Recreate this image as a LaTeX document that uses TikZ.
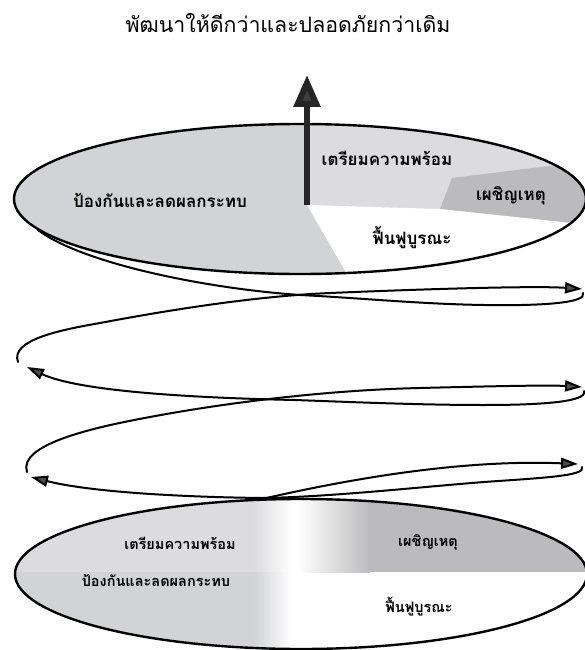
\documentclass[tikz,border=0pt]{standalone}
\usepackage{fontspec}
\newfontfamily\thaifont[Script=Thai]{Loma}
\usetikzlibrary{arrows.meta, shapes.geometric}
\definecolor{preventgrey}{HTML}{D2D3D6}
\definecolor{prepgrey}{HTML}{DCDCDE}
\definecolor{respgrey}{HTML}{BBBBBD}

\begin{document}
\begin{tikzpicture}[
    x=1pt, y=-1pt,
    disk/.style={ellipse, draw=black, line width=2.4pt, minimum width=572pt, minimum height=150pt, inner sep=0pt},
    biglabel/.style={font=\thaifont\bfseries\fontsize{17}{20}\selectfont},
    smalllabel/.style={font=\thaifont\bfseries\fontsize{14.5}{17}\selectfont},
    heading/.style={font=\thaifont\fontsize{21.3}{25}\selectfont},
    spiral/.style={draw=black, line width=2pt, line cap=round},
    spiralarrow/.style={spiral, -{Triangle[length=17pt,width=11pt,fill=black!70]}},
    bigarrow/.style={draw=black!85, line width=6pt, -{Triangle[length=32pt,width=26pt,fill=black!75]}}
]
\useasboundingbox (0,0) rectangle (584,650);

% Titel
\node[heading] (title) at (288,23) {พัฒนาให้ดีกว่าและปลอดภัยกว่าเดิม};

% Scheibe oben
\begin{scope}
  \clip (300,199) ellipse [x radius=286, y radius=75];
  \fill[preventgrey] (0,110) rectangle (600,290);
  \fill[prepgrey] (307,205) -- (307,100) -- (600,100) -- (600,230) -- cycle;
  \fill[respgrey] (452,178) -- (565,164) -- (600,150) -- (600,230) -- (440,209) -- cycle;
  \fill[white] (307,205) -- (440,209) -- (600,226) -- (600,300) -- (362,300) -- cycle;
\end{scope}
\node[disk] (topdisk) at (300,199) {};

% Scheibe unten
\begin{scope}
  \clip (301,574) ellipse [x radius=286, y radius=75];
  \fill[prepgrey] (0,480) rectangle (255,572);
  \fill[preventgrey] (0,572) rectangle (255,660);
  \shade[left color=prepgrey, right color=white] (254,480) rectangle (292,572);
  \shade[left color=preventgrey, right color=white] (254,572) rectangle (292,660);
  \shade[left color=white, right color=respgrey] (298,480) rectangle (370,572);
  \fill[respgrey] (369,480) rectangle (600,572);
\end{scope}
\node[disk] (botdisk) at (301,574) {};

% Beschriftung oben
\node[biglabel] (prevtop) at (160,200) {ป้องกันและลดผลกระทบ};
\node[biglabel] (preptop) at (387,158) {เตรียมความพร้อม};
\node[biglabel] (resptop) at (511,196) {เผชิญเหตุ};
\node[biglabel] (recotop) at (412,238) {ฟื้นฟูบูรณะ};

% Beschriftung unten
\node[smalllabel] (prepbot) at (180,543) {เตรียมความพร้อม};
\node[smalllabel] (respbot) at (428,542) {เผชิญเหตุ};
\node[smalllabel] (prevbot) at (156,580) {ป้องกันและลดผลกระทบ};
\node[smalllabel] (recobot) at (419,607) {ฟื้นฟูบูรณะ};

% Punkte der Spirale
\coordinate (c3) at (262,499);
\coordinate (a3) at (578,464);
\coordinate (r3) at (582,467);
\coordinate (a2l) at (31,477);
\coordinate (l2) at (27,472);
\coordinate (a2r) at (582,387);
\coordinate (r2) at (584,391);
\coordinate (a1l) at (27,367);
\coordinate (l1) at (18,362);
\coordinate (a1r) at (582,289);
\coordinate (r1) at (583,293);
\coordinate (e1) at (38,230);
\coordinate (hub) at (307,205);
\coordinate (peak) at (307,75);

% Spirale
\draw[spiralarrow] (c3) .. controls (380,472) and (480,460) .. (a3);
\draw[spiralarrow] (r3) .. controls (587,476) and (540,478) .. (484,482)
    .. controls (420,487) and (330,497) .. (262,498)
    .. controls (180,497) and (90,492) .. (a2l);
\draw[spiralarrow] (l2) .. controls (18,445) and (90,428) .. (150,417)
    .. controls (230,402) and (330,390) .. (420,388)
    .. controls (500,386) and (550,385) .. (a2r);
\draw[spiralarrow] (r2) .. controls (588,402) and (540,405) .. (484,405)
    .. controls (420,405) and (350,402) .. (295,400)
    .. controls (200,398) and (80,392) .. (a1l);
\draw[spiralarrow] (l1) .. controls (10,340) and (60,330) .. (100,323)
    .. controls (180,308) and (260,296) .. (330,293)
    .. controls (450,288) and (540,286) .. (a1r);
\draw[spiral] (r1) .. controls (588,303) and (540,306) .. (484,305)
    .. controls (420,304) and (360,298) .. (300,295)
    .. controls (200,288) and (80,262) .. (e1);

% Pfeil nach oben
\draw[bigarrow] (hub) -- (peak);

\end{tikzpicture}
\end{document}
